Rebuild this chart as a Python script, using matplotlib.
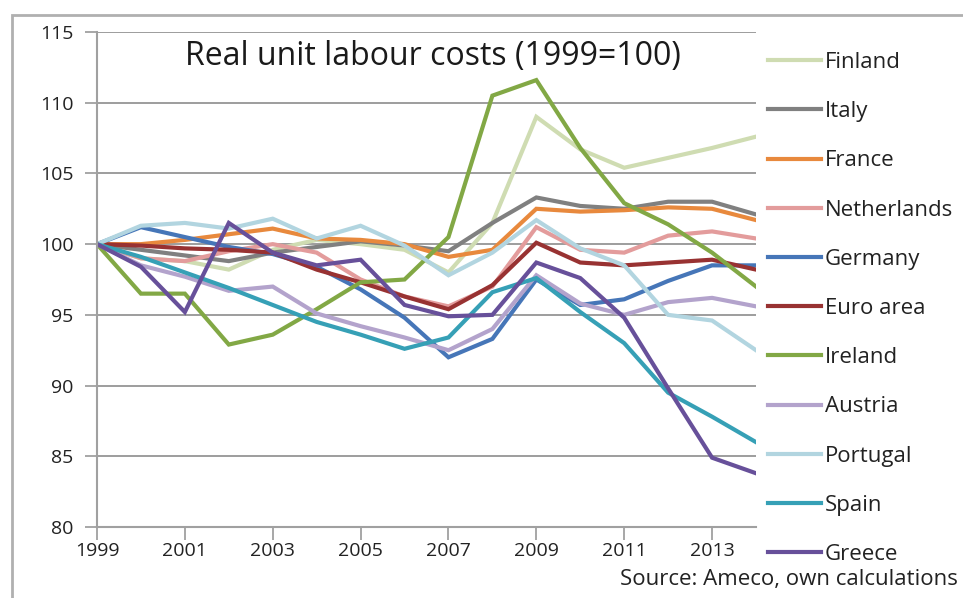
import numpy as np
import matplotlib
matplotlib.use("Agg")
import matplotlib.pyplot as plt
from matplotlib.patches import Rectangle

plt.rcParams['font.family'] = ['Open Sans', 'DejaVu Sans']

# donnees
annees = list(range(1999, 2015))
pays = ['Finland', 'Italy', 'France', 'Netherlands', 'Germany', 'Euro area',
        'Ireland', 'Austria', 'Portugal', 'Spain', 'Greece']

finland = [100, 99.0, 98.8, 98.2, 99.6, 100.3, 100.0, 99.6, 98.0, 101.5, 109.0, 106.7, 105.4, 106.1, 106.8, 107.6]
italy = [100, 99.6, 99.2, 98.8, 99.4, 99.8, 100.2, 99.9, 99.5, 101.5, 103.3, 102.7, 102.5, 103.0, 103.0, 102.1]
france = [100, 100.0, 100.3, 100.7, 101.1, 100.4, 100.3, 100.0, 99.1, 99.6, 102.5, 102.3, 102.4, 102.6, 102.5, 101.7]
netherlands = [100, 99.0, 98.8, 99.5, 100.0, 99.4, 97.5, 96.3, 95.6, 97.0, 101.2, 99.6, 99.4, 100.6, 100.9, 100.4]
germany = [100, 101.2, 100.5, 99.8, 99.3, 98.4, 96.8, 94.8, 92.0, 93.3, 97.5, 95.7, 96.1, 97.4, 98.5, 98.5]
euro_area = [100, 99.9, 99.7, 99.6, 99.4, 98.2, 97.3, 96.3, 95.4, 97.1, 100.1, 98.7, 98.5, 98.7, 98.9, 98.2]
ireland = [100, 96.5, 96.5, 92.9, 93.6, 95.4, 97.3, 97.5, 100.5, 110.5, 111.6, 106.8, 102.9, 101.4, 99.4, 97.0]
austria = [100, 98.5, 97.7, 96.7, 97.0, 95.1, 94.2, 93.4, 92.5, 94.0, 97.8, 95.8, 95.0, 95.9, 96.2, 95.6]
portugal = [100, 101.3, 101.5, 101.1, 101.8, 100.4, 101.3, 99.9, 97.8, 99.4, 101.7, 99.7, 98.5, 95.0, 94.6, 92.5]
spain = [100, 99.1, 98.0, 96.9, 95.7, 94.5, 93.6, 92.6, 93.4, 96.6, 97.6, 95.2, 93.0, 89.5, 87.8, 86.0]
greece = [100, 98.4, 95.2, 101.5, 99.4, 98.5, 98.9, 95.7, 94.9, 95.0, 98.7, 97.6, 94.8, 89.8, 84.9, 83.8]

series = [finland, italy, france, netherlands, germany, euro_area,
          ireland, austria, portugal, spain, greece]
couleurs = ['#cfdcb2', '#808080', '#e8893d', '#e39c9c', '#4676b8', '#983232',
            '#82a845', '#b3a3cc', '#b2d5e0', '#36a0b6', '#67509a']

fig = plt.figure(figsize=(9.63, 5.98), dpi=100)
ax = fig.add_axes([97 / 963, 1 - 527 / 598, (756 - 97) / 963, (527 - 32) / 598])

# cadre exterieur
fig.patches.append(Rectangle((12 / 963, -0.05), 1.2, 1 - 15 / 598 + 0.05,
                             transform=fig.transFigure, fill=False,
                             edgecolor='#b0b0b0', linewidth=2))

for nom, y, c in zip(pays, series, couleurs):
    ax.plot(annees, y, color=c, lw=3, label=nom, solid_joinstyle='miter')

ax.set_xlim(1999, 2014)
ax.set_ylim(80, 115)
ax.set_yticks(np.arange(80, 116, 5))
ax.set_xticks(range(1999, 2015, 2))
ax.grid(axis='y', color='#8c8c8c', lw=1.2)
ax.set_axisbelow(True)
for s in ['top', 'right']:
    ax.spines[s].set_visible(False)
for s in ['left', 'bottom']:
    ax.spines[s].set_color('#a0a0a0')
    ax.spines[s].set_linewidth(1.5)
ax.tick_params(axis='both', colors='#a0a0a0', length=9, width=1.3,
               labelsize=14, labelcolor='#222222')
ax.tick_params(axis='y', pad=8)
ax.tick_params(axis='x', pad=2)

ax.text(0.51, 0.95, 'Real unit labour costs (1999=100)', transform=ax.transAxes,
        ha='center', va='center', fontsize=23, color='#1a1a1a')

leg = ax.legend(loc='upper left', bbox_to_anchor=(759 / 963, 1 - 43 / 598),
                bbox_transform=fig.transFigure, frameon=False, fontsize=16,
                handlelength=2.4, handletextpad=0.15, labelspacing=1.27,
                borderaxespad=0)
for t in leg.get_texts():
    t.set_color('#222222')

fig.text(958 / 963, 1 - 580 / 598, 'Source: Ameco, own calculations',
         ha='right', va='center', fontsize=16, color='#222222')

fig.savefig('out.png', dpi=100)
